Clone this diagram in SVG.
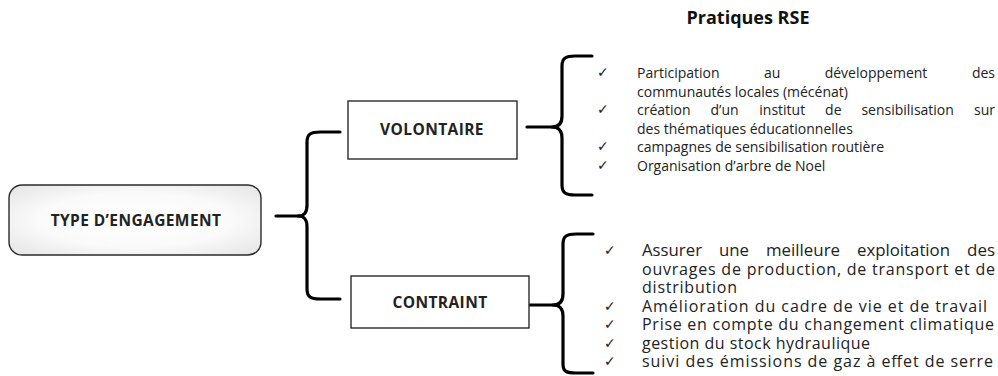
<svg xmlns="http://www.w3.org/2000/svg" width="998" height="376" viewBox="0 0 998 376">
<defs>
<radialGradient id="gBox" cx="50%" cy="50%" r="70%">
<stop offset="0" stop-color="#ffffff"/>
<stop offset="0.55" stop-color="#fafafa"/>
<stop offset="1" stop-color="#e4e4e4"/>
</radialGradient>
<style>
.box{stroke:#2b2b2b;stroke-width:1.4}
.lbl{font-family:"Open Sans","Liberation Sans",sans-serif;font-weight:700;font-size:15.5px;letter-spacing:0.4px;fill:#222;text-anchor:middle}
.ttl{font-family:"Open Sans","Liberation Sans",sans-serif;font-weight:700;font-size:18px;fill:#111;text-anchor:middle}
.brace{fill:none;stroke:#000;stroke-width:3.2;stroke-linecap:round;stroke-linejoin:round}
.t1{font-family:"Open Sans","Liberation Sans",sans-serif;font-size:14px;fill:#222}
.t2{font-family:"Open Sans","Liberation Sans",sans-serif;font-size:16px;fill:#222}
.chk{font-family:"DejaVu Sans",sans-serif;font-size:14px;fill:#222}
.end{text-anchor:end}
</style>
</defs>
<rect width="998" height="376" fill="#ffffff"/>

<text class="ttl" x="748" y="24">Pratiques RSE</text>

<g id="connectors">
<path class="brace" d="M276,216 L298,216 C305,216 307,212 307,205 L307,142 C307,134 311,132 320,132 L340,132"/>
<path class="brace" d="M298,216 C305,216 307,220 307,227 L307,289 C307,297 311,299 320,299 L340,299"/>
<path class="brace" d="M527,127 L552,127 C559,127 562,123 562,116 L562,66 C562,58 566,56 575,56 L592,56"/>
<path class="brace" d="M552,127 C559,127 562,131 562,138 L562,185 C562,193 566,195 575,195 L592,195"/>
<path class="brace" d="M530,305 L553,305 C560,305 563,301 563,294 L563,244 C563,236 567,234 576,234 L593,234"/>
<path class="brace" d="M553,305 C560,305 563,309 563,316 L563,364 C563,372 567,373 576,373 L593,373"/>
</g>

<g id="node-type">
<rect class="box" x="9" y="185" width="252" height="70" rx="13" ry="13" fill="url(#gBox)"/>
<text class="lbl" x="136" y="226">TYPE D’ENGAGEMENT</text>
</g>

<g id="node-volontaire">
<rect class="box" x="348" y="101" width="169" height="58" fill="#ffffff"/>
<text class="lbl" x="432" y="135">VOLONTAIRE</text>
</g>

<g id="node-contraint">
<rect class="box" x="351" y="276" width="178" height="52" fill="#ffffff"/>
<text class="lbl" x="440" y="308">CONTRAINT</text>
</g>

<g id="list-volontaire">
<text class="chk" x="597" y="77">✓</text>
<text class="chk" x="597" y="114">✓</text>
<text class="chk" x="597" y="151">✓</text>
<text class="chk" x="597" y="169.5">✓</text>
<text class="t1" y="78"><tspan x="637">Participation</tspan><tspan x="764">au</tspan><tspan x="824.7">développement</tspan></text>
<text class="t1 end" x="995" y="78">des</text>
<text class="t1" x="637" y="96.5">communautés locales (mécénat)</text>
<text class="t1" y="115"><tspan x="637">création</tspan><tspan x="710.5">d’un</tspan><tspan x="759.3">institut</tspan><tspan x="825.1">de</tspan><tspan x="861.4">sensibilisation</tspan></text>
<text class="t1 end" x="995" y="115">sur</text>
<text class="t1" x="637" y="133.5">des thématiques éducationnelles</text>
<text class="t1" x="637" y="152">campagnes de sensibilisation routière</text>
<text class="t1" x="637" y="170.5">Organisation d’arbre de Noel</text>
</g>

<g id="list-contraint">
<text class="chk" x="604" y="255">✓</text>
<text class="chk" x="604" y="310.5">✓</text>
<text class="chk" x="604" y="329">✓</text>
<text class="chk" x="604" y="347.5">✓</text>
<text class="chk" x="604" y="366">✓</text>
<text class="t2" x="642" y="256" textLength="60" lengthAdjust="spacingAndGlyphs">Assurer</text>
<text class="t2" x="719" y="256" textLength="30" lengthAdjust="spacingAndGlyphs">une</text>
<text class="t2" x="766" y="256" textLength="74" lengthAdjust="spacingAndGlyphs">meilleure</text>
<text class="t2" x="857" y="256" textLength="93" lengthAdjust="spacingAndGlyphs">exploitation</text>
<text class="t2" x="967" y="256" textLength="28" lengthAdjust="spacingAndGlyphs">des</text>
<text class="t2" x="642" y="274.5" textLength="353" lengthAdjust="spacing">ouvrages de production, de transport et de</text>
<text class="t2" x="642" y="293" textLength="95" lengthAdjust="spacing">distribution</text>
<text class="t2" x="642" y="311.5" textLength="345" lengthAdjust="spacing">Amélioration du cadre de vie et de travail</text>
<text class="t2" x="642" y="330" textLength="352" lengthAdjust="spacing">Prise en compte du changement climatique</text>
<text class="t2" x="642" y="348.5" textLength="228" lengthAdjust="spacing">gestion du stock hydraulique</text>
<text class="t2" x="642" y="367" textLength="351" lengthAdjust="spacing">suivi des émissions de gaz à effet de serre</text>
</g>
</svg>
